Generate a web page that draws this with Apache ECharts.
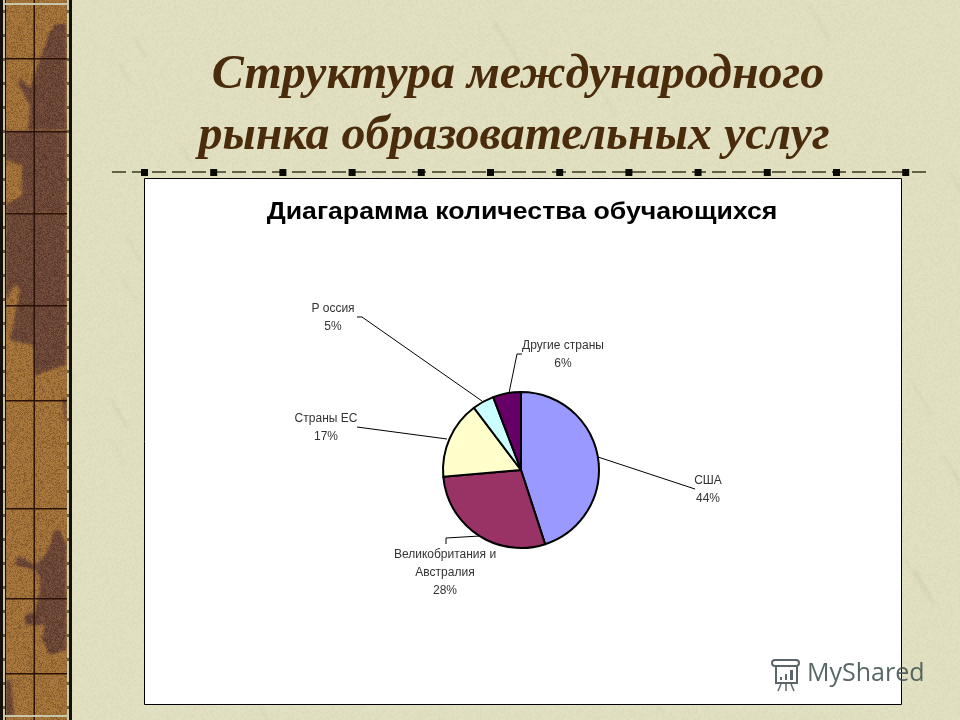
<!DOCTYPE html>
<html>
<head>
<meta charset="utf-8">
<title>Структура международного рынка образовательных услуг</title>
<script src="https://cdn.jsdelivr.net/npm/echarts@6/dist/echarts.min.js"></script>
<style>
html, body { margin: 0; padding: 0; background: #e0dfc0; }
#main { width: 960px; height: 720px; }
</style>
</head>
<body>
<div id="main"></div>
<script>
// данные диаграммы
const countries = ['США', 'Великобритания и\nАвстралия', 'Страны ЕС', 'Р оссия', 'Другие страны'];
const sliceShares = [45, 28.6, 16.1, 4.5, 5.8];
const printedPercents = ['44%', '28%', '17%', '5%', '6%'];
const sliceColors = ['#9999ff', '#993366', '#ffffcc', '#ccffff', '#660066'];

// подписи и выноски
const labelCenters = [[708, 481], [445, 555], [326, 419], [333, 309], [563, 346]];
const leaderLines = [
    [[598, 457], [695, 489], [695, 489]],
    [[480, 536], [446, 538], [446, 544]],
    [[447, 439], [357, 427], [357, 427]],
    [[482, 401], [362, 317], [357, 317]],
    [[509, 393], [517, 354], [522, 354]]
];

// орнамент левой полосы
const stripRows = [58, 131, 213, 305, 400, 508, 598, 673];
const stripPatches = [
    [[48, 36], [55, 24], [66, 24], [66, 130], [28, 130], [30, 105], [18, 84], [20, 78], [30, 88], [40, 60]],
    [[6, 131], [66, 131], [66, 213], [6, 213], [6, 205], [22, 195], [22, 165], [6, 160]],
    [[6, 213], [66, 213], [66, 365], [50, 370], [35, 376], [33, 345], [10, 340], [20, 290], [15, 284], [6, 300]],
    [[62, 398], [66, 398], [66, 430]],
    [[55, 530], [60, 530], [66, 545], [66, 650], [50, 655], [42, 640], [45, 625], [25, 625], [25, 615], [35, 612], [40, 590], [40, 578], [35, 570], [15, 565], [18, 555], [35, 565], [45, 555], [50, 545]],
    [[6, 680], [11, 680], [14, 716], [6, 716]]
];

// детерминированный шум для фактуры
const hash = (x, y) => {
    const s = Math.sin(x * 127.1 + y * 311.7) * 43758.5453;
    return s - Math.floor(s);
};

// фон слайда: бумага и левая полоса
const makeBackdrop = () => {
    const c = document.createElement('canvas');
    c.width = 960;
    c.height = 720;
    const ctx = c.getContext('2d');
    ctx.fillStyle = '#e0dfc0';
    ctx.fillRect(0, 0, 960, 720);
    for (let y = 0; y < 720; y += 2) {
        for (let x = 72; x < 960; x += 2) {
            const n = hash(x, y) - 0.5;
            ctx.fillStyle = n > 0 ? 'rgba(250,248,220,' + n * 0.2 + ')' : 'rgba(160,155,115,' + (-n * 0.1) + ')';
            ctx.fillRect(x, y, 2, 2);
        }
    }
    ctx.lineCap = 'round';
    ctx.filter = 'blur(1.5px)';
    for (let i = 0; i < 45; i++) {
        const x = 75 + hash(i, 1) * 885;
        const y = hash(i, 2) * 720;
        const len = 15 + hash(i, 3) * 30;
        ctx.strokeStyle = 'rgba(170,170,140,0.18)';
        ctx.lineWidth = 1 + hash(i, 4) * 2;
        ctx.beginPath();
        ctx.moveTo(x, y);
        ctx.lineTo(x + len * 0.6, y + len);
        ctx.stroke();
    }

    // полоса
    ctx.filter = 'none';
    ctx.fillStyle = '#a5743a';
    ctx.fillRect(5, 0, 62, 720);
    ctx.filter = 'blur(1px)';
    ctx.fillStyle = '#6a4638';
    stripPatches.forEach(points => {
        ctx.beginPath();
        points.forEach(([x, y], i) => (i ? ctx.lineTo(x, y) : ctx.moveTo(x, y)));
        ctx.closePath();
        ctx.fill();
    });
    ctx.filter = 'none';
    for (let y = 0; y < 720; y++) {
        for (let x = 5; x < 67; x++) {
            const n = hash(x + 1000, y) - 0.5;
            ctx.fillStyle = n > 0 ? 'rgba(230,170,100,' + n * 0.3 + ')' : 'rgba(30,10,0,' + (-n * 0.55) + ')';
            ctx.fillRect(x, y, 1, 1);
        }
    }
    ctx.fillStyle = '#2a1206';
    ctx.fillRect(33.5, 0, 1.5, 720);
    stripRows.forEach(y => ctx.fillRect(5, y, 62, 1.5));
    // рамка полосы
    ctx.fillStyle = '#17100a';
    ctx.fillRect(0, 0, 3, 720);
    ctx.fillRect(5, 0, 1, 720);
    ctx.fillRect(69, 0, 3, 720);
    ctx.fillStyle = '#c9c7aa';
    ctx.fillRect(3, 0, 2, 720);
    ctx.fillRect(67, 0, 2, 720);
    ctx.fillRect(3, 3, 66, 2);
    ctx.fillRect(3, 715, 66, 2);
    ctx.fillStyle = 'rgba(23,16,10,0.55)';
    for (let y = 10; y < 720; y += 24) {
        ctx.fillRect(3, y, 2, 3);
        ctx.fillRect(67, y, 2, 3);
    }
    return c;
};

// разделитель под заголовком
const dividerGraphics = () => {
    const items = [{
        type: 'line', silent: true,
        shape: { x1: 112, y1: 172, x2: 930, y2: 172 },
        style: { stroke: '#3a3a20', lineWidth: 1.5, lineDash: [14, 6] }
    }];
    for (let x = 144; x < 930; x += 69.2) {
        items.push({
            type: 'rect', silent: true,
            shape: { x: x - 3, y: 169, width: 7, height: 7 },
            style: { fill: '#0a0a05' }
        });
    }
    return items;
};

// водяной знак
const watermark = () => {
    const stroke = '#59666a';
    return [
        { type: 'rect', silent: true, shape: { x: 772, y: 660, width: 27, height: 6, r: 3 }, style: { fill: 'transparent', stroke, lineWidth: 2 } },
        { type: 'rect', silent: true, shape: { x: 776, y: 666, width: 21, height: 17 }, style: { fill: 'transparent', stroke, lineWidth: 2 } },
        { type: 'rect', silent: true, shape: { x: 780, y: 677, width: 2, height: 3 }, style: { fill: stroke } },
        { type: 'rect', silent: true, shape: { x: 785, y: 674, width: 2, height: 6 }, style: { fill: stroke } },
        { type: 'rect', silent: true, shape: { x: 790, y: 670, width: 3, height: 10 }, style: { fill: stroke } },
        { type: 'line', silent: true, shape: { x1: 781, y1: 684, x2: 778, y2: 691 }, style: { stroke, lineWidth: 1.5 } },
        { type: 'line', silent: true, shape: { x1: 786, y1: 684, x2: 786, y2: 691 }, style: { stroke, lineWidth: 1.5 } },
        { type: 'line', silent: true, shape: { x1: 791, y1: 684, x2: 794, y2: 691 }, style: { stroke, lineWidth: 1.5 } },
        {
            type: 'text', silent: true, x: 807, y: 674,
            style: { text: 'MyShared', fill: 'rgba(70,85,85,0.9)', font: '25px "Open Sans"', textVerticalAlign: 'middle' }
        }
    ];
};

const chart = echarts.init(document.getElementById('main'));

const slideText = (text, x, y, font, fill) => ({
    type: 'text', silent: true, x, y,
    style: { text, font, fill, textAlign: 'center', textVerticalAlign: 'middle' }
});

chart.setOption({
    animation: false,
    backgroundColor: { image: makeBackdrop(), repeat: 'no-repeat' },
    graphic: { elements: [
        ...dividerGraphics(),
        {
            type: 'rect', silent: true, z: 1,
            shape: { x: 144.5, y: 178.5, width: 757, height: 526 },
            style: { fill: '#ffffff', stroke: '#000000', lineWidth: 1 }
        },
        slideText('Структура международного', 518, 76, 'italic bold 48px "Liberation Serif"', '#4a2c0c'),
        slideText('рынка образовательных услуг', 514, 137, 'italic bold 48px "Liberation Serif"', '#4a2c0c'),
        { ...slideText('Диагарамма количества обучающихся', 522, 213, 'bold 23px "Liberation Sans"', '#000000'), scaleX: 1.16, z: 5 },
        ...watermark().map(el => ({ ...el, z: 20 }))
    ] },
    series: [{
        type: 'pie',
        z: 10,
        center: [521, 470],
        radius: 78,
        startAngle: 90,
        clockwise: true,
        silent: true,
        data: countries.map((name, i) => ({
            name,
            value: sliceShares[i],
            itemStyle: { color: sliceColors[i] }
        })),
        itemStyle: { borderColor: '#000000', borderWidth: 2 },
        label: {
            formatter: p => p.name + '\n' + printedPercents[p.dataIndex],
            color: '#333333',
            fontFamily: 'Liberation Sans',
            fontSize: 12,
            lineHeight: 18,
            align: 'center'
        },
        labelLine: {
            show: true,
            lineStyle: { color: '#000000', width: 1 }
        },
        labelLayout: params => ({
            x: labelCenters[params.dataIndex][0],
            y: labelCenters[params.dataIndex][1] - 9,
            align: 'center',
            verticalAlign: 'top',
            labelLinePoints: leaderLines[params.dataIndex]
        })
    }]
});

window.addEventListener('resize', function() {
    chart.resize();
});
</script>
</body>
</html>
